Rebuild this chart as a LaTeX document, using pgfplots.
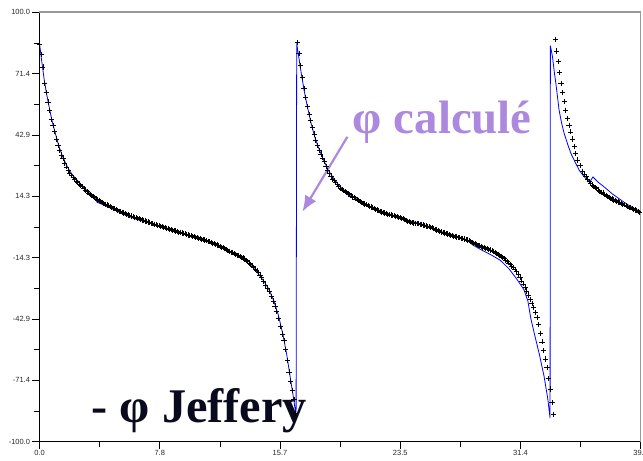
\documentclass[border=0pt]{standalone}
\usepackage{pgfplots}
\pgfplotsset{compat=1.18}
\usepackage{pgfplotstable}
\usetikzlibrary{arrows.meta}
\usepackage{fontspec}
\setmainfont{Liberation Serif}
\newfontfamily\ticksans{Liberation Sans}
\definecolor{annpurple}{RGB}{172,136,222}
\definecolor{jefnavy}{RGB}{10,10,30}

\pgfplotstableread{
t phi
0.00 85.0
0.11 80.5
0.22 74.5
0.33 67.0
0.44 62.5
0.55 58.2
0.66 54.2
0.77 50.2
0.88 47.2
0.99 44.5
1.10 41.0
1.21 38.0
1.32 35.6
1.43 33.5
1.54 31.8
1.65 29.8
1.76 28.0
1.87 26.4
1.98 25.2
2.10 24.0
2.20 23.1
2.30 22.2
2.40 21.4
2.50 20.7
2.60 20.0
2.70 19.4
2.80 18.7
2.90 18.0
3.00 17.2
3.10 16.5
3.20 15.9
3.30 15.3
3.40 14.7
3.50 14.2
3.60 13.6
3.70 13.1
3.80 12.6
3.90 12.2
4.00 11.8
4.10 11.4
4.20 11.0
4.30 10.6
4.40 10.2
4.50 9.9
4.60 9.5
4.70 9.2
4.80 8.8
4.90 8.5
5.00 8.1
5.10 7.8
5.20 7.4
5.30 7.1
5.40 6.8
5.50 6.5
5.60 6.2
5.70 5.9
5.80 5.6
5.90 5.4
6.00 5.1
6.10 4.9
6.20 4.6
6.30 4.3
6.40 4.0
6.50 3.8
6.60 3.5
6.70 3.3
6.80 3.0
6.90 2.8
7.00 2.5
7.10 2.3
7.20 2.0
7.30 1.8
7.40 1.5
7.50 1.3
7.60 1.0
7.70 0.8
7.80 0.6
7.90 0.4
8.00 0.1
8.10 -0.1
8.20 -0.4
8.30 -0.6
8.40 -0.8
8.50 -1.0
8.60 -1.3
8.70 -1.5
8.80 -1.7
8.90 -1.9
9.00 -2.2
9.10 -2.4
9.20 -2.6
9.30 -2.8
9.40 -3.0
9.50 -3.2
9.60 -3.5
9.70 -3.7
9.80 -3.9
9.90 -4.1
10.00 -4.3
10.10 -4.5
10.20 -4.8
10.30 -5.0
10.40 -5.2
10.50 -5.4
10.60 -5.7
10.70 -5.9
10.80 -6.1
10.90 -6.4
11.00 -6.6
11.10 -6.9
11.20 -7.2
11.30 -7.5
11.40 -7.8
11.50 -8.1
11.60 -8.4
11.70 -8.7
11.80 -9.0
11.90 -9.4
12.00 -9.7
12.10 -10.1
12.20 -10.5
12.30 -10.9
12.40 -11.3
12.50 -11.7
12.60 -12.0
12.70 -12.4
12.80 -12.7
12.90 -13.1
13.00 -13.4
13.10 -13.8
13.20 -14.1
13.30 -14.4
13.40 -14.9
13.50 -15.5
13.60 -16.1
13.70 -16.8
13.80 -17.4
13.90 -18.1
14.00 -18.8
14.10 -19.6
14.20 -20.4
14.30 -21.3
14.40 -22.3
14.50 -23.5
14.65 -25.3
14.78 -27.0
14.90 -28.4
15.02 -30.2
15.14 -32.3
15.26 -34.5
15.38 -36.8
15.50 -39.4
15.62 -42.6
15.74 -46.2
15.86 -49.8
15.97 -53.0
16.08 -57.0
16.19 -62.0
16.30 -67.5
16.41 -72.0
16.52 -76.0
16.62 -80.5
16.73 -87.0
16.84 86.0
16.95 80.8
17.06 75.3
17.17 69.5
17.28 64.5
17.39 60.2
17.50 56.2
17.61 52.5
17.72 49.5
17.83 46.3
17.94 43.3
18.05 40.5
18.16 38.0
18.27 35.8
18.38 34.0
18.49 32.2
18.60 30.5
18.71 28.3
18.82 26.3
18.93 24.8
19.04 23.4
19.15 22.4
19.25 21.5
19.35 20.7
19.45 19.7
19.55 18.8
19.65 18.2
19.75 17.6
19.85 17.0
19.95 16.5
20.05 16.0
20.15 15.5
20.25 15.0
20.35 14.5
20.45 14.0
20.55 13.6
20.65 13.1
20.75 12.7
20.85 12.3
20.95 11.9
21.05 11.5
21.15 11.1
21.25 10.7
21.35 10.4
21.45 10.0
21.55 9.7
21.65 9.3
21.75 9.0
21.85 8.6
21.95 8.3
22.05 7.9
22.15 7.6
22.25 7.3
22.35 7.0
22.45 6.7
22.55 6.5
22.65 6.2
22.75 6.0
22.85 5.8
22.95 5.6
23.05 5.4
23.15 5.2
23.25 5.0
23.35 4.8
23.45 4.6
23.55 4.4
23.65 4.1
23.75 3.9
23.85 3.5
23.95 3.1
24.05 2.7
24.15 2.4
24.25 2.2
24.35 2.1
24.45 1.9
24.55 1.8
24.65 1.6
24.75 1.5
24.85 1.3
24.95 1.1
25.05 0.9
25.15 0.7
25.25 0.5
25.35 0.3
25.45 0.1
25.55 -0.2
25.65 -0.4
25.75 -0.7
25.85 -1.0
25.95 -1.4
26.05 -1.7
26.15 -2.0
26.25 -2.3
26.35 -2.6
26.45 -2.8
26.55 -3.1
26.65 -3.3
26.75 -3.6
26.85 -3.8
26.95 -4.1
27.05 -4.3
27.15 -4.5
27.25 -4.7
27.35 -4.9
27.45 -5.0
27.55 -5.2
27.65 -5.4
27.75 -5.6
27.85 -5.8
27.95 -6.1
28.05 -6.4
28.15 -6.8
28.25 -7.1
28.35 -7.5
28.45 -7.8
28.55 -8.2
28.65 -8.5
28.75 -8.8
28.85 -9.1
28.95 -9.4
29.05 -9.6
29.15 -9.9
29.25 -10.1
29.35 -10.4
29.45 -10.7
29.55 -11.0
29.65 -11.4
29.75 -11.8
29.85 -12.2
29.95 -12.7
30.05 -13.2
30.15 -13.7
30.25 -14.2
30.35 -14.8
30.45 -15.4
30.55 -16.0
30.65 -16.7
30.75 -17.4
30.85 -18.2
30.95 -19.0
31.05 -19.9
31.15 -20.8
31.28 -22.2
31.39 -23.6
31.50 -25.1
31.61 -26.5
31.72 -28.0
31.83 -29.8
31.94 -31.7
32.05 -33.7
32.16 -35.6
32.27 -37.4
32.38 -39.7
32.49 -42.3
32.60 -45.3
32.71 -49.5
32.82 -53.5
32.93 -57.5
33.04 -61.5
33.15 -65.5
33.26 -70.5
33.37 -75.5
33.47 -81.7
33.58 -87.4
33.68 87.4
33.78 82.0
33.88 77.0
33.98 72.0
34.07 67.0
34.17 62.5
34.27 58.3
34.38 54.4
34.49 50.6
34.59 47.4
34.70 44.3
34.81 41.0
34.92 37.5
35.03 34.3
35.16 31.2
35.30 28.5
35.45 26.0
35.60 24.6
35.70 23.4
35.80 22.3
35.90 21.3
36.00 20.3
36.10 19.6
36.20 18.9
36.30 18.3
36.40 17.8
36.50 17.2
36.60 16.7
36.70 16.2
36.80 15.8
36.90 15.3
37.00 14.8
37.10 14.3
37.20 13.9
37.30 13.4
37.40 13.0
37.50 12.6
37.60 12.3
37.70 11.9
37.80 11.6
37.90 11.3
38.00 11.0
38.10 10.6
38.20 10.3
38.30 9.9
38.40 9.6
38.50 9.2
38.60 8.9
38.70 8.5
38.80 8.2
38.90 7.9
39.00 7.6
39.10 7.2
39.20 6.9
}\jeffery

\begin{document}
\begin{tikzpicture}
\begin{axis}[
  scale only axis,
  width=601.2bp, height=429.4bp,
  xmin=0, xmax=39.27, ymin=-100, ymax=100,
  axis x line*=bottom, axis y line*=left,
  axis line style={black, line width=0.7bp, -},
  tick align=outside,
  major tick length=7bp, minor tick length=5bp,
  tick style={black, line width=0.7bp},
  xtick={0,7.854,15.708,23.562,31.416,39.27},
  xticklabels={0.0,7.8,15.7,23.5,31.4,39.3},
  minor xtick={3.927,11.781,19.635,27.489,35.343},
  ytick={-100,-71.43,-42.86,-14.29,14.29,42.86,71.43,100},
  yticklabels={-100.0,-71.4,-42.9,-14.3,14.3,42.9,71.4,100.0},
  minor ytick={-85.71,-57.14,-28.57,0,28.57,57.14,85.71},
  ticklabel style={font=\ticksans\fontsize{7.5}{8}\selectfont, text=black!85},
  xticklabel style={yshift=2bp},
  yticklabel style={xshift=1bp},
  clip=false,
]
\coordinate (SW) at (rel axis cs:0,0);
\coordinate (NE) at (rel axis cs:1,1);
\draw[gray!80, line width=1.6bp] (rel axis cs:0,1) -- (rel axis cs:1,1);
\draw[gray!80, line width=0.9bp] (rel axis cs:1,1) -- (rel axis cs:1,0);

\addplot[blue, line width=0.8bp] coordinates {
(0,85.5) (0.15,77) (0.3,69) (0.45,62.5) (0.6,57) (0.8,50) (1.0,44.5) (1.25,38) (1.5,33) (1.75,29) (2.0,25.8) (2.3,23) (2.6,20.7) (2.9,18.3) (3.2,16.2) (3.5,14.3) (3.68,13.3) (3.75,11.6) (4.2,10.2) (4.8,8.3) (5.5,5.9) (6.2,3.9) (6.9,2.4) (7.3,1.6) (7.6,0.8) (8.2,-0.3) (9.0,-2.1) (9.8,-3.9) (10.5,-5.5) (10.9,-6.6) (11.2,-7.6) (11.6,-8.3) (12.2,-10.4) (12.8,-13.0) (13.4,-15.6) (13.9,-18.5) (14.3,-21.8) (14.7,-25.7) (15.0,-29.3) (15.3,-34.3) (15.6,-41) (15.9,-50) (16.15,-59.5) (16.4,-71) (16.6,-80) (16.76,-88)
(16.80,85.5) (16.95,78.5) (17.1,71.5) (17.3,63) (17.5,56) (17.75,48) (18.0,41.5) (18.3,35.5) (18.6,30.5) (18.9,26) (19.2,22.8) (19.6,19) (20.1,16) (20.6,13.5) (21.2,10.9) (21.8,9) (22.5,6.8) (23.2,5.2) (24.0,3.2) (24.6,2.1) (25.3,0.6) (26.0,-1.5) (26.6,-3.1) (27.2,-4.5) (27.8,-5.7) (28.05,-6.7) (28.3,-8.4) (28.9,-10.8) (29.5,-13.0) (30.1,-15.5) (30.67,-19.5) (31.2,-24.5) (31.65,-29.3) (31.9,-34.5) (32.09,-42.5) (32.35,-50.5) (32.63,-58.7) (32.96,-69.6) (33.2,-80) (33.35,-89)
(33.37,84.5) (33.51,79.2) (33.62,72.5) (33.73,66.8) (33.94,54.4) (34.1,48.5) (34.27,43.6) (34.5,38.5) (34.71,34.3) (35.0,30) (35.25,26.5) (35.55,23.6) (35.8,21.8) (35.95,21.1) (36.15,23.3) (36.5,20.8) (36.88,18.7) (37.4,15.5) (37.97,12.6) (38.6,9.6) (39.27,7.1)
};

\addplot[only marks, mark=+, mark size=2.6bp, black, mark options={line width=0.7bp}] table[x=t, y=phi] {\jeffery};

\draw[annpurple, line width=2.2bp, -{Latex[length=16bp, width=13bp]}] (axis cs:20.11,42.0) -- (axis cs:17.17,7.1);
\node[anchor=base west, inner sep=0pt, text=annpurple, font=\bfseries\fontsize{47}{50}\selectfont] at (axis cs:20.46,43.7) {φ calculé};
\node[anchor=base west, inner sep=0pt, text=jefnavy, font=\bfseries\fontsize{48.5}{52}\selectfont] at (axis cs:3.40,-91.2) {- φ Jeffery};
\end{axis}
\pgfresetboundingbox
\path ([shift={(-39.5bp,-19.3bp)}]SW) rectangle ([shift={(2.3bp,12.3bp)}]NE);
\end{tikzpicture}
\end{document}
